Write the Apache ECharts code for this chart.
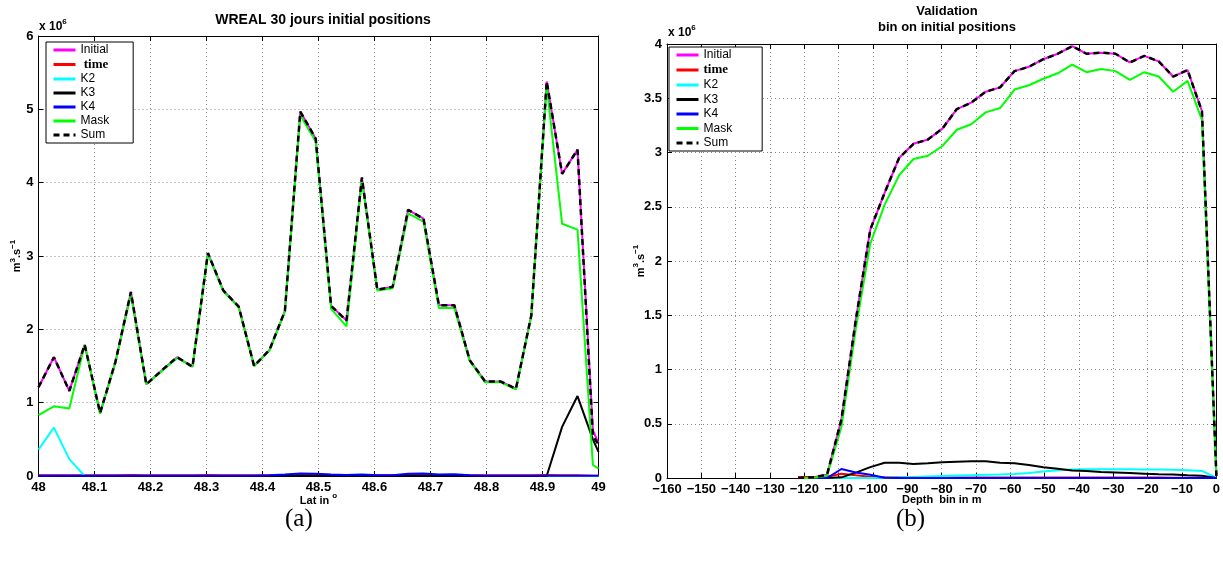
<!DOCTYPE html>
<html><head><meta charset="utf-8">
<script src="https://cdn.jsdelivr.net/npm/echarts@6/dist/echarts.min.js"></script>
<style>html,body{margin:0;padding:0;background:#fff}#c{width:1223px;height:562px}</style>
</head><body><div id="c"></div><script>
// ---------- Left panel (a): WREAL 30 jours initial positions ----------
const latLeft = [48, 48.0275, 48.055, 48.0825, 48.11, 48.1375, 48.165, 48.1925, 48.22, 48.2475,
  48.275, 48.3025, 48.33, 48.3575, 48.385, 48.4125, 48.44, 48.4675, 48.495, 48.5225,
  48.55, 48.5775, 48.605, 48.6325, 48.66, 48.6875, 48.715, 48.7425, 48.77, 48.7975,
  48.825, 48.8525, 48.88, 48.9075, 48.935, 48.9625, 48.99, 49];
const initialLeft = [1.21, 1.62, 1.16, 1.79, 0.86, 1.56, 2.51, 1.25, 1.44, 1.62,
  1.49, 3.04, 2.53, 2.31, 1.50, 1.72, 2.25, 4.97, 4.60, 2.32,
  2.12, 4.07, 2.54, 2.58, 3.63, 3.51, 2.33, 2.33, 1.58, 1.29,
  1.29, 1.19, 2.19, 5.38, 4.12, 4.45, 0.62, 0.45];
const timeLeft = [0.01, 0.01, 0.01, 0.01, 0.01, 0.01, 0.015, 0.01, 0.01, 0.01,
  0.01, 0.015, 0.01, 0.01, 0.01, 0.01, 0.015, 0.02, 0.02, 0.015,
  0.01, 0.015, 0.01, 0.01, 0.015, 0.015, 0.01, 0.01, 0.01, 0.01,
  0.01, 0.01, 0.01, 0.015, 0.01, 0.01, 0.005, 0.005];
const k2Left = [0.36, 0.66, 0.23, 0, 0, 0, 0, 0, 0, 0,
  0, 0, 0, 0, 0, 0, 0, 0, 0, 0,
  0, 0, 0, 0, 0, 0, 0, 0, 0, 0,
  0, 0, 0, 0, 0, 0, 0, 0];
const k3Left = [0, 0, 0, 0, 0, 0, 0, 0, 0, 0,
  0, 0, 0, 0, 0, 0, 0, 0, 0, 0,
  0, 0, 0, 0, 0, 0, 0, 0, 0, 0,
  0, 0, 0, 0, 0.67, 1.09, 0.50, 0.33];
const k4Left = [0.005, 0.005, 0.005, 0.005, 0.005, 0.005, 0.005, 0.005, 0.005, 0.005,
  0.005, 0.005, 0.005, 0.005, 0.005, 0.01, 0.02, 0.035, 0.03, 0.02,
  0.015, 0.02, 0.01, 0.01, 0.03, 0.035, 0.02, 0.025, 0.01, 0.005,
  0.005, 0.005, 0.005, 0.005, 0.005, 0.005, 0.005, 0.005];
const maskLeft = [0.83, 0.95, 0.92, 1.79, 0.85, 1.55, 2.47, 1.25, 1.43, 1.61,
  1.49, 3.03, 2.52, 2.30, 1.50, 1.71, 2.24, 4.92, 4.56, 2.28,
  2.04, 4.03, 2.53, 2.56, 3.58, 3.47, 2.29, 2.29, 1.57, 1.28,
  1.28, 1.18, 2.18, 5.32, 3.44, 3.36, 0.15, 0.10];
const sumLeft = [1.21, 1.62, 1.16, 1.79, 0.86, 1.56, 2.51, 1.25, 1.44, 1.62,
  1.49, 3.04, 2.53, 2.31, 1.50, 1.72, 2.25, 4.97, 4.60, 2.32,
  2.12, 4.07, 2.54, 2.58, 3.63, 3.51, 2.33, 2.33, 1.58, 1.29,
  1.29, 1.19, 2.19, 5.38, 4.12, 4.45, 0.55, 0.43];
const yTicksLeft = [0, 1, 2, 3, 4, 5, 6];
const xTicksLeft = [48, 48.1, 48.2, 48.3, 48.4, 48.5, 48.6, 48.7, 48.8, 48.9, 49];

// ---------- Right panel (b): Validation, bin on initial positions ----------
const depthRight = [-121.8, -117.6, -113.4, -109.2, -105, -100.8, -96.6, -92.4, -88.2, -84,
  -79.8, -75.6, -71.4, -67.2, -63, -58.8, -54.6, -50.4, -46.2, -42,
  -37.8, -33.6, -29.4, -25.2, -21, -16.8, -12.6, -8.4, -4.2, 0];
const initialRight = [0, 0.005, 0.03, 0.54, 1.46, 2.29, 2.63, 2.95, 3.08, 3.12,
  3.22, 3.40, 3.46, 3.56, 3.60, 3.75, 3.79, 3.86, 3.91, 3.98,
  3.91, 3.92, 3.91, 3.83, 3.89, 3.84, 3.70, 3.76, 3.38, 0.02];
const timeRight = [0.01, 0.01, 0.012, 0.04, 0.025, 0.012, 0.008, 0.006, 0.005, 0.005,
  0.005, 0.005, 0.005, 0.005, 0.005, 0.005, 0.005, 0.005, 0.005, 0.005,
  0.005, 0.005, 0.004, 0.004, 0.004, 0.004, 0.003, 0.003, 0.003, 0];
const k2Right = [0, 0, 0, 0, 0, 0, 0.003, 0.006, 0.01, 0.014,
  0.018, 0.022, 0.026, 0.03, 0.033, 0.037, 0.045, 0.06, 0.072, 0.078,
  0.08, 0.08, 0.08, 0.08, 0.079, 0.078, 0.075, 0.072, 0.065, 0];
const k3Right = [0, 0, 0, 0.006, 0.05, 0.10, 0.14, 0.14, 0.13, 0.135,
  0.145, 0.15, 0.155, 0.155, 0.14, 0.135, 0.12, 0.10, 0.085, 0.07,
  0.065, 0.055, 0.05, 0.045, 0.04, 0.035, 0.032, 0.025, 0.02, 0];
const k4Right = [0, 0, 0, 0.083, 0.05, 0.03, 0.003, 0, 0, 0,
  0, 0, 0, 0, 0, 0, 0, 0, 0, 0,
  0, 0, 0, 0, 0, 0, 0, 0, 0, 0];
const maskRight = [0, 0, 0.02, 0.47, 1.38, 2.16, 2.52, 2.79, 2.94, 2.97,
  3.06, 3.21, 3.26, 3.37, 3.41, 3.58, 3.62, 3.68, 3.73, 3.81,
  3.74, 3.77, 3.75, 3.67, 3.74, 3.70, 3.56, 3.66, 3.30, 0.02];
const sumRight = [0, 0.005, 0.03, 0.54, 1.46, 2.29, 2.63, 2.95, 3.08, 3.12,
  3.22, 3.40, 3.46, 3.56, 3.60, 3.75, 3.79, 3.86, 3.91, 3.98,
  3.91, 3.92, 3.91, 3.83, 3.89, 3.84, 3.70, 3.76, 3.38, 0.02];
const yTicksRight = [0, 0.5, 1, 1.5, 2, 2.5, 3, 3.5, 4];
const xTicksRight = [-160, -150, -140, -130, -120, -110, -100, -90, -80, -70, -60, -50, -40, -30, -20, -10, 0];

const seriesNames = ['Initial', 'time', 'K2', 'K3', 'K4', 'Mask', 'Sum'];
const seriesColors = ['#ff00ff', '#ff0000', '#00ffff', '#000000', '#0000ff', '#00ff00', '#000000'];

const zip = (xs, ys) => xs.map((x, i) => [x, ys[i]]);

const FONT = 'Liberation Sans, Arial, sans-serif';
const SERIF = 'Liberation Serif, DejaVu Serif, serif';

function mkSeries(xi, yi, xs, arrays) {
  return arrays.map((arr, i) => ({
    name: seriesNames[i],
    type: 'line',
    xAxisIndex: xi,
    yAxisIndex: yi,
    data: zip(xs, arr),
    symbol: 'none',
    showSymbol: false,
    clip: true,
    z: 2 + i,
    color: seriesColors[i],
    lineStyle: {
      color: seriesColors[i],
      width: seriesNames[i] === 'Sum' ? 2.5 : 2,
      type: seriesNames[i] === 'Sum' ? [6, 4] : 'solid'
    }
  }));
}

const splitDotted = { show: true, lineStyle: { color: '#888', width: 1, type: [1, 3] } };
const axisLine = { show: true, onZero: false, lineStyle: { color: '#000', width: 1 } };
const tickIn = { show: true, inside: true, length: 5, lineStyle: { color: '#000' } };
const labelStyle = { color: '#000', fontFamily: FONT, fontWeight: 'bold', fontSize: 13 };
const richSup = {
  b: { fontFamily: FONT, fontWeight: 'bold', fontSize: 11, color: '#000', verticalAlign: 'bottom', lineHeight: 14 },
  s: { fontFamily: FONT, fontWeight: 'bold', fontSize: 8, color: '#000', verticalAlign: 'top', lineHeight: 14 }
};

function xAxes(gi, min, max, interval, fmt, name, nameGap) {
  return [
    { type: 'value', gridIndex: gi, position: 'bottom', min, max, interval,
      axisLine, axisTick: tickIn, splitLine: splitDotted,
      axisLabel: Object.assign({ margin: 5, formatter: fmt, showMinLabel: true, showMaxLabel: true }, labelStyle),
      name, nameLocation: 'middle', nameGap, nameMoveOverlap: false,
      nameTextStyle: { color: '#000', fontFamily: FONT, fontWeight: 'bold', fontSize: 11, rich: richSup } },
    { type: 'value', gridIndex: gi, position: 'top', min, max, interval,
      axisLine, axisTick: tickIn, splitLine: { show: false }, axisLabel: { show: false } }
  ];
}
function yAxes(gi, min, max, interval, nameGap) {
  return [
    { type: 'value', gridIndex: gi, position: 'left', min, max, interval,
      axisLine, axisTick: tickIn, splitLine: splitDotted,
      axisLabel: Object.assign({ margin: 5 }, labelStyle),
      name: '{b|m}{s|3}{b|.s}{s|−1}', nameLocation: 'middle', nameRotate: 90, nameGap, nameMoveOverlap: false,
      nameTextStyle: { rich: richSup } },
    { type: 'value', gridIndex: gi, position: 'right', min, max, interval,
      axisLine, axisTick: tickIn, splitLine: { show: false }, axisLabel: { show: false } }
  ];
}

const fmtLat = v => String(+v.toFixed(1));
const fmtDepth = v => (v < 0 ? '\u2212' + Math.abs(v) : String(v));

function mkLegend(left, top, timeLabel, padRight, gap) {
  return {
    orient: 'vertical', left, top,
    data: seriesNames,
    itemWidth: 22, itemHeight: 10, itemGap: gap,
    padding: [2, padRight, 2, 6],
    backgroundColor: '#fff', borderColor: '#000', borderWidth: 1,
    selectedMode: false,
    itemStyle: { opacity: 0, borderWidth: 0 },
    lineStyle: { width: 3 },
    textStyle: { fontFamily: FONT, fontSize: 12, color: '#000',
      rich: { t: { fontFamily: SERIF, fontWeight: 'bold', fontSize: 13, color: '#000' } } },
    formatter: n => (n === 'time' ? '{t|' + timeLabel + '}' : n)
  };
}

const supTitle = (x, y) => ({
  type: 'text', left: x, top: y, z: 100,
  style: { rich: {
    b: { fontFamily: FONT, fontWeight: 'bold', fontSize: 12, fill: '#000', verticalAlign: 'bottom', lineHeight: 15 },
    s: { fontFamily: FONT, fontWeight: 'bold', fontSize: 8, fill: '#000', verticalAlign: 'top', lineHeight: 15 } },
    text: '{b|x 10}{s|6}' }
});

const option = {
  animation: false,
  backgroundColor: '#fff',
  title: [
    { text: 'WREAL 30 jours initial positions', left: 318, top: 8, textAlign: 'center',
      textStyle: { fontFamily: FONT, fontWeight: 'bold', fontSize: 14, color: '#000' } },
    { text: 'Validation\nbin on initial positions', left: 942, top: -2, textAlign: 'center',
      textStyle: { fontFamily: FONT, fontWeight: 'bold', fontSize: 13, color: '#000', lineHeight: 16 } }
  ],
  grid: [
    { left: 38.5, right: 1223 - 598.5, top: 36, bottom: 562 - 476 },
    { left: 667, right: 1223 - 1217, top: 44, bottom: 562 - 478 }
  ],
  xAxis: [
    ...xAxes(0, 48, 49, 0.1, fmtLat, '{b|Lat in }{s|o}', 16),
    ...xAxes(1, -160, 0, 10, fmtDepth, 'Depth  bin in m', 16)
  ],
  yAxis: [
    ...yAxes(0, 0, 6, 1, 16),
    ...yAxes(1, 0, 4, 0.5, 21)
  ],
  legend: [mkLegend(46, 42, ' time', 24, 2), mkLegend(669, 47, 'time', 30, 2.5)],
  graphic: [
    supTitle(39, 18),
    supTitle(668, 24),
    { type: 'text', left: 285, top: 507, z: 100,
      style: { text: '(a)', fontFamily: SERIF, fontSize: 25, fill: '#000' } },
    { type: 'text', left: 896, top: 507, z: 100,
      style: { text: '(b)', fontFamily: SERIF, fontSize: 25, fill: '#000' } }
  ],
  series: [
    ...mkSeries(0, 0, latLeft, [initialLeft, timeLeft, k2Left, k3Left, k4Left, maskLeft, sumLeft]),
    ...mkSeries(2, 2, depthRight, [initialRight, timeRight, k2Right, k3Right, k4Right, maskRight, sumRight])
  ]
};

const chart = echarts.init(document.getElementById('c'), null, { renderer: 'canvas' });
chart.setOption(option);
</script></body></html>
